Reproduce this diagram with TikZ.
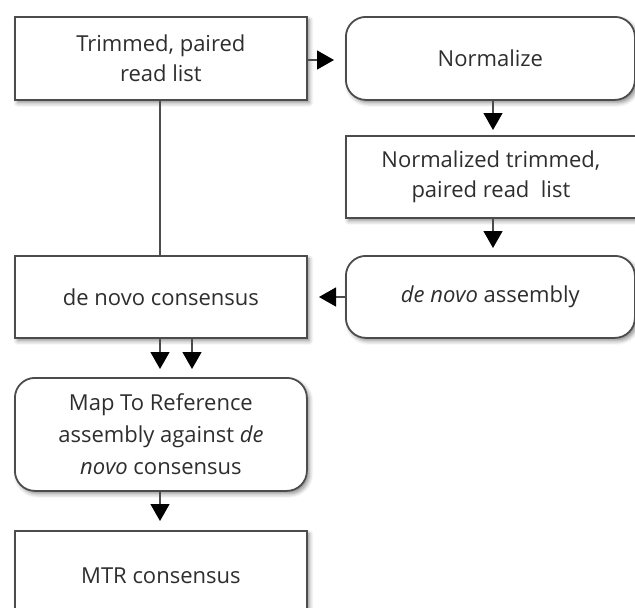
\documentclass[tikz,border=0pt]{standalone}
\usepackage{fontspec}
\setmainfont{Open Sans}
\usetikzlibrary{arrows.meta,shadows,shadows.blur}
\begin{document}
\begin{tikzpicture}[x=1pt,y=-1pt,
  box/.style={draw=black!70,line width=1.8pt,fill=white,minimum width=292pt,minimum height=83pt,
    align=center,font=\fontsize{22}{29.5}\selectfont,text=black!82,anchor=north west,
    blur shadow={shadow xshift=2.5pt,shadow yshift=-3pt,shadow blur radius=4pt,shadow opacity=45}},
  rbox/.style={box,rounded corners=20pt},
  arr/.style={draw=black!70,line width=1.3pt,-{Triangle[length=17pt,width=19pt,color=black]},shorten >=-1pt},
  ln/.style={draw=black!70,line width=1.3pt}]
\useasboundingbox (0,0) rectangle (635,608);
\clip (0,0) rectangle (635,608);
\node[box] (trim) at (14,16) {Trimmed, paired\\read list};
\node[rbox,minimum width=289pt] (norm) at (345,16) {Normalize};
\node[box,minimum width=290pt,minimum height=82pt] (ntrim) at (345,135) {Normalized trimmed,\\paired read\ \ list};
\node[rbox,minimum width=289pt,minimum height=82pt] (dna) at (345,255) {\textit{de novo} assembly};
\node[box,minimum height=82pt] (dnc) at (14,255) {de novo consensus};
\node[rbox,minimum height=113pt,font=\fontsize{22}{32}\selectfont] (mtr) at (14,377) {Map To Reference\\assembly against \textit{de}\\\textit{novo} consensus};
\node[box,minimum height=90pt] (mtrc) at (14,530) {MTR consensus};
\coordinate (t1) at (333,60);
\draw[arr] (trim.east |- t1) -- (t1);
\coordinate (t2) at (493,129);
\draw[arr] (t2 |- norm.south) -- (t2);
\coordinate (t3) at (493,247);
\draw[arr] (t3 |- ntrim.south) -- (t3);
\coordinate (t4) at (320,297);
\draw[arr] (dna.west |- t4) -- (t4);
\draw[ln] (trim.south -| 160,0) -- (dnc.north -| 160,0);
\coordinate (t5) at (160,368);
\coordinate (t6) at (192,368);
\draw[arr] (t5 |- dnc.south) -- (t5);
\draw[arr] (t6 |- dnc.south) -- (t6);
\coordinate (t7) at (160,520);
\draw[arr] (t7 |- mtr.south) -- (t7);
\end{tikzpicture}
\end{document}
